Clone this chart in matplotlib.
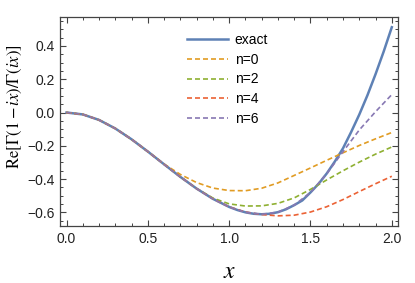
#!/usr/bin/env python3
"""Re[Gamma(1-ix)/Gamma(ix)] against x, exact curve and n=0..6 approximations."""

import matplotlib

matplotlib.use("Agg")
import matplotlib.pyplot as plt
from matplotlib.ticker import MultipleLocator

# exact curve, finer sampling where it bends most
x_exact = [0.0, 0.1, 0.2, 0.3, 0.4, 0.5, 0.6, 0.7, 0.8, 0.9, 1.0,
           1.05, 1.1, 1.15, 1.2, 1.25, 1.3, 1.35, 1.4, 1.45, 1.5,
           1.55, 1.6, 1.65, 1.7, 1.75, 1.8, 1.85, 1.9, 1.95, 2.0]
exact = [0.0, -0.0114, -0.0445, -0.0960, -0.1610, -0.2345, -0.3113, -0.3869,
         -0.4573, -0.5187, -0.5674,
         -0.5858, -0.5998, -0.6084, -0.6115, -0.6084, -0.5989, -0.5813,
         -0.5565, -0.5281, -0.4802, -0.4282, -0.3662, -0.2939, -0.2149,
         -0.1171, -0.0123, 0.1034, 0.2306, 0.3664, 0.5128]

# truncated approximations
x_vals = [0.0, 0.1, 0.2, 0.3, 0.4, 0.5, 0.6, 0.7, 0.8, 0.9, 1.0,
          1.1, 1.2, 1.3, 1.4, 1.5, 1.6, 1.7, 1.8, 1.9, 2.0]
n0 = [0.0, -0.0114, -0.0445, -0.0960, -0.1610, -0.2345, -0.3100, -0.3720,
      -0.4210, -0.4540, -0.4690, -0.4700, -0.4550, -0.4230, -0.3780,
      -0.3330, -0.2870, -0.2420, -0.1980, -0.1580, -0.1200]
n2 = [0.0, -0.0114, -0.0445, -0.0960, -0.1610, -0.2345, -0.3113, -0.3869,
      -0.4570, -0.5140, -0.5490, -0.5620, -0.5610, -0.5460, -0.5130,
      -0.4620, -0.4050, -0.3500, -0.2980, -0.2500, -0.2070]
n4 = [0.0, -0.0114, -0.0445, -0.0960, -0.1610, -0.2345, -0.3113, -0.3869,
      -0.4573, -0.5187, -0.5670, -0.5980, -0.6130, -0.6210, -0.6170,
      -0.5980, -0.5660, -0.5230, -0.4750, -0.4280, -0.3830]
n6 = [0.0, -0.0114, -0.0445, -0.0960, -0.1610, -0.2345, -0.3113, -0.3869,
      -0.4573, -0.5187, -0.5674, -0.5998, -0.6115, -0.5989, -0.5565,
      -0.4805, -0.3680, -0.2350, -0.1050, 0.0050, 0.1080]

labels = ["exact", "n=0", "n=2", "n=4", "n=6"]
COLORS = ["#5E81B5", "#E19C24", "#8FB032", "#EB6235", "#8778B3"]

plt.rcParams.update({
    "font.family": ["Liberation Sans", "DejaVu Sans"],
    "mathtext.fontset": "stix",
    "font.size": 10,
})

fig = plt.figure(figsize=(4.15, 2.83), dpi=100)
ax = fig.add_axes([0.1446, 0.2014, 0.8152, 0.7396])

ax.plot(x_exact, exact, color=COLORS[0], lw=1.8, label=labels[0],
        solid_joinstyle="round")
for series, color, label in zip([n0, n2, n4, n6], COLORS[1:], labels[1:]):
    ax.plot(x_vals, series, color=color, lw=1.2, dashes=(3.0, 1.8), label=label)

ax.set_xlim(-0.04, 2.04)
ax.set_ylim(-0.682, 0.576)
ax.xaxis.set_major_locator(MultipleLocator(0.5))
ax.xaxis.set_minor_locator(MultipleLocator(0.1))
ax.yaxis.set_major_locator(MultipleLocator(0.2))
ax.yaxis.set_minor_locator(MultipleLocator(0.05))
ax.xaxis.set_major_formatter(lambda v, _: f"{v:.1f}".replace("-", "\u2212"))
ax.yaxis.set_major_formatter(lambda v, _: f"{v:.1f}".replace("-", "\u2212"))
ax.tick_params(which="both", direction="in", top=True, right=True,
               color="#444444", labelcolor="#222222")
ax.tick_params(which="major", length=4.5, width=0.8, labelsize=10, pad=4)
ax.tick_params(which="minor", length=2.5, width=0.7)
for spine in ax.spines.values():
    spine.set_color("#444444")
    spine.set_linewidth(0.9)

ax.set_xlabel(r"$x$", fontsize=17, labelpad=11)
ax.set_ylabel(r"$\mathrm{Re}[\mathit{\Gamma}(\mathit{1}-ix)/\mathit{\Gamma}(ix)]$",
              fontsize=12)
ax.yaxis.set_label_coords(-0.106, 0.57)

ax.legend(loc="upper left", bbox_to_anchor=(0.348, 0.967), frameon=False,
          handlelength=2.9, handletextpad=0.5, labelspacing=0.4,
          borderaxespad=0.3, fontsize=10)

fig.savefig("out.png", dpi=100)
